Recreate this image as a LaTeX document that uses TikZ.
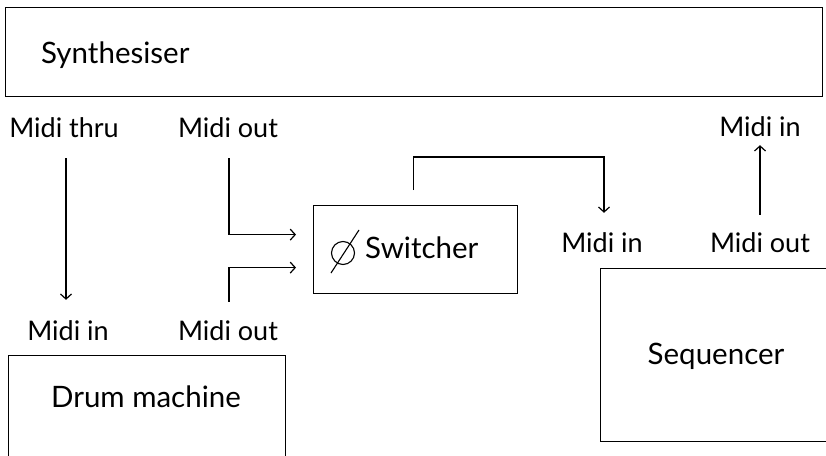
\documentclass[tikz,border=0pt]{standalone}
\usepackage{fontspec}
\setmainfont{Lato}
\usetikzlibrary{arrows.meta}
\begin{document}
\begin{tikzpicture}[x=1pt,y=-1pt,
  box/.style={draw, line width=1.2pt, inner sep=0pt},
  txt/.style={font=\fontsize{29.5}{34}\selectfont, inner sep=0pt},
  lbl/.style={font=\fontsize{27}{32}\selectfont, inner sep=0pt, text height=19pt, text depth=0pt, anchor=base},
  conn/.style={line width=1.2pt, -{Straight Barb[length=5pt,width=11pt]}}]
\useasboundingbox (0,0) rectangle (826,455);
\clip (0,0) rectangle (826,455);
% boxes
\node[box, anchor=north west, minimum width=817pt, minimum height=89pt] (synth) at (5,7) {};
\node[txt, anchor=base west] (synthtxt) at (41,63) {Synthesiser};
\node[box, anchor=north west, minimum width=204pt, minimum height=88pt] (sw) at (313,205) {};
\node[circle, draw, line width=1.1pt, inner sep=0pt, minimum size=23pt] (nul) at (343,253) {};
\draw[line width=1.1pt] ([shift={(-12,20)}]nul.center) -- ([shift={(16,-23)}]nul.center);
\node[txt, anchor=base west] (swtxt) at (365,258) {Switcher};
\node[box, anchor=north west, minimum width=277pt, minimum height=130pt] (drum) at (8,355) {};
\node[txt, anchor=base] (drumtxt) at (146,407) {Drum machine};
\node[box, anchor=north west, minimum width=300pt, minimum height=173pt] (seq) at (600,268) {};
\node[txt, anchor=base] (seqtxt) at (716,364) {Sequencer};
% labels
\node[lbl] (thru) at (64,137) {Midi thru};
\node[lbl] (sout) at (228,137) {Midi out};
\node[lbl] (sin)  at (760,136) {Midi in};
\node[lbl] (din)  at (68,340) {Midi in};
\node[lbl] (dout) at (228,340) {Midi out};
\node[lbl] (qin)  at (602,252) {Midi in};
\node[lbl] (qout) at (760,252) {Midi out};
% connectors
\draw[conn, shorten <=21pt, shorten >=21pt] ([xshift=2pt]thru.south) -- ([xshift=2pt]thru.south |- din.north);
\draw[conn, shorten <=21pt, shorten >=17pt] ([xshift=1pt]sout.south) |- ([yshift=15pt]sw.west);
\draw[conn, shorten <=19pt, shorten >=17pt] ([xshift=1pt]dout.north) |- ([yshift=-18pt]sw.west);
\draw[conn, shorten <=15pt, shorten >=20pt] ([xshift=-2pt]sw.north) -- ([xshift=-2pt,yshift=48pt]sw.north) -| ([xshift=2pt]qin.north);
\draw[conn, shorten <=18pt, shorten >=9pt] (qout.north) -- (sin.south);
\end{tikzpicture}
\end{document}
